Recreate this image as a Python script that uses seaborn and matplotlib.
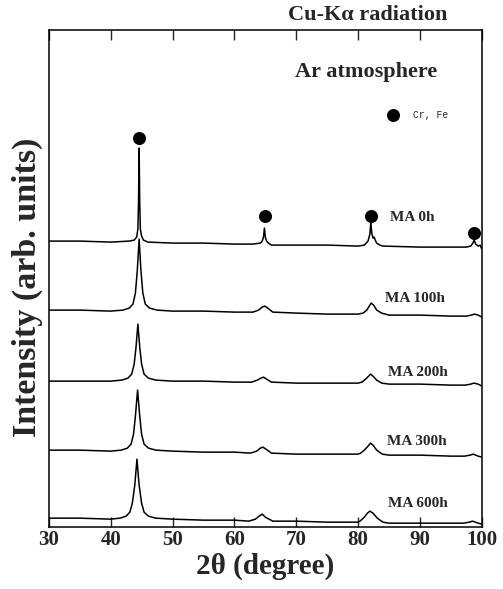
import matplotlib
matplotlib.use("Agg")
import matplotlib.pyplot as plt
import seaborn as sns
import pandas as pd

sns.set_style("ticks")
plt.rcParams['font.family'] = ['Liberation Serif', 'DejaVu Serif']

# ---- data, intensity in arbitrary units ----
labels = ["MA 0h", "MA 100h", "MA 200h", "MA 300h", "MA 600h"]
offsets = [284, 216, 146, 76, 8]

tt_0h = [30, 35, 40, 43, 43.8, 44.2, 44.4, 44.5, 44.6, 44.7, 44.8, 45.0, 45.3, 46, 50, 55, 60,
         63, 64.2, 64.5, 64.7, 64.85, 65.0, 65.2, 65.5, 66, 70, 75, 80, 81.0, 81.6, 81.9,
         82.05, 82.2, 82.4, 82.6, 82.75, 83.0, 83.5, 84, 90, 95, 97.5, 98.2, 98.55, 98.75,
         99.0, 99.4, 99.7, 100]
i_0h = [2, 2, 1, 2, 3, 6, 14, 40, 95, 40, 14, 7, 3, 1, 0, 0, -1,
        -1, 0, 2, 6, 15, 6, 2, 0, -2, -2, -2, -3, -2, 2, 9,
        21, 10, 5, 6, 3, 0, -2, -3, -4, -4, -4, -3, 0, 3,
        -1, -3, -2, -6]

tt_100h = [30, 35, 40, 42, 43, 43.6, 44.0, 44.3, 44.6, 44.9, 45.2, 45.6, 46.3, 47.5, 50, 55,
           60, 63, 63.9, 64.5, 64.9, 65.4, 66.2, 70, 75, 80, 80.8, 81.4, 81.8, 82.1, 82.5,
           83.0, 83.8, 85, 90, 95, 97.5, 98.3, 98.8, 99.4, 100]
i_100h = [1, 1, 0, 1, 3, 7, 18, 40, 72, 40, 18, 7, 3, 1, 0, 0,
          -1, -1, 1, 4, 5, 3, -1, -2, -3, -3, -2, 1, 5, 8, 6,
          1, -2, -4, -4, -5, -5, -4, -3, -4, -6]

tt_200h = [30, 35, 40, 41.8, 42.8, 43.4, 43.8, 44.1, 44.4, 44.7, 45.0, 45.4, 46.1, 47.3, 50,
           55, 60, 62.8, 63.7, 64.3, 64.7, 65.2, 66.0, 70, 75, 80, 80.6, 81.2, 81.7, 82.0,
           82.4, 83.0, 83.8, 85, 90, 95, 97.3, 98.2, 98.7, 99.4, 100]
i_200h = [0, 0, 0, 1, 3, 7, 17, 34, 57, 34, 17, 7, 3, 1, 0,
          0, -1, -1, 1, 3, 4, 2, -1, -2, -2, -2, -1, 2, 5, 7,
          5, 1, -2, -3, -3, -4, -4, -3, -2, -3, -5]

tt_300h = [30, 35, 40, 41.7, 42.7, 43.3, 43.7, 44.0, 44.35, 44.7, 45.0, 45.4, 46.1, 47.3,
           50, 55, 60, 62.6, 63.6, 64.2, 64.6, 65.1, 66.0, 70, 75, 80, 80.4, 81.0, 81.6,
           82.0, 82.4, 83.0, 83.9, 85, 90, 95, 97.2, 98.1, 98.6, 99.4, 100]
i_300h = [1, 1, 0, 1, 3, 7, 17, 35, 61, 35, 17, 7, 3, 1,
          0, -1, -1, -2, 0, 3, 4, 2, -2, -3, -3, -3, -2, 1, 5,
          8, 6, 1, -3, -4, -4, -5, -5, -4, -3, -5, -6]

tt_600h = [30, 35, 40, 41.5, 42.5, 43.1, 43.5, 43.9, 44.25, 44.6, 45.0, 45.4, 46.1, 47.3,
           50, 55, 60, 62.3, 63.4, 64.0, 64.5, 65.0, 66.2, 70, 75, 80, 80.3, 81.0, 81.5,
           81.9, 82.4, 83.1, 84.0, 85, 90, 95, 97.0, 98.0, 98.5, 99.4, 100]
i_600h = [1, 1, 0, 1, 3, 7, 16, 34, 60, 34, 16, 7, 3, 1,
          0, -1, -1, -2, 0, 3, 5, 2, -2, -2, -3, -3, -2, 2, 6,
          8, 6, 1, -3, -4, -4, -4, -4, -3, -2, -4, -5]

traces_tt = [tt_0h, tt_100h, tt_200h, tt_300h, tt_600h]
traces_i = [i_0h, i_100h, i_200h, i_300h, i_600h]

# phase markers (Cr, Fe) on the MA 0h pattern
dot_tt = [44.6, 65.0, 82.1, 98.8]
dot_i = [105, 27, 27, 10]

label_tt = [85.1, 84.3, 84.8, 84.7, 84.8]
label_dy = [26, 13, 9, 10, 16]

xticks = [30, 40, 50, 60, 70, 80, 90, 100]

# ---- build table ----
rows = []
for lab, off, tt, ii in zip(labels, offsets, traces_tt, traces_i):
    for t, v in zip(tt, ii):
        rows.append({"two_theta": t, "intensity": v + off, "sample": lab})
df = pd.DataFrame(rows)

fig = plt.figure(figsize=(5.03, 5.89), dpi=100)
ax = fig.add_axes([0.097, 0.105, 0.861, 0.844])

sns.lineplot(data=df, x="two_theta", y="intensity", units="sample", estimator=None,
             sort=False, color="black", linewidth=1.1, ax=ax, legend=False)

ax.scatter(dot_tt, [v + offsets[0] for v in dot_i], s=70, color="black", zorder=3)

for lab, off, lt, dy in zip(labels, offsets, label_tt, label_dy):
    ax.text(lt, off + dy, lab, fontsize=11, fontweight="bold", ha="left", va="center")

# legend for dots
ax.scatter([85.6], [412], s=70, color="black")
ax.text(88.8, 412, "Cr, Fe", fontsize=7, family=["Liberation Mono", "DejaVu Sans Mono"],
        ha="left", va="center")

ax.text(0.896, 0.915, "Ar atmosphere", transform=ax.transAxes, fontsize=16,
        fontweight="bold", ha="right", va="center")
fig.text(0.889, 0.975, "Cu-K\u03b1 radiation", fontsize=16, fontweight="bold",
         ha="right", va="center")

ax.set_xlim(30, 100)
ax.set_ylim(0, 497)
ax.set_xticks(xticks)
ax.set_xticklabels([str(t) for t in xticks], fontsize=15, fontweight="bold")
ax.set_yticks([])
ax.tick_params(axis="x", direction="in", length=7, width=1, top=True, pad=2)
for s in ax.spines.values():
    s.set_linewidth(1.1)
    s.set_color("black")

ax.set_xlabel("2\u03b8 (degree)", fontsize=21, fontweight="bold", labelpad=2)
ax.set_ylabel("Intensity (arb. units)", fontsize=24.5, fontweight="bold")
ax.yaxis.set_label_coords(-0.014, 0.483)

fig.savefig("out.png", dpi=100)
